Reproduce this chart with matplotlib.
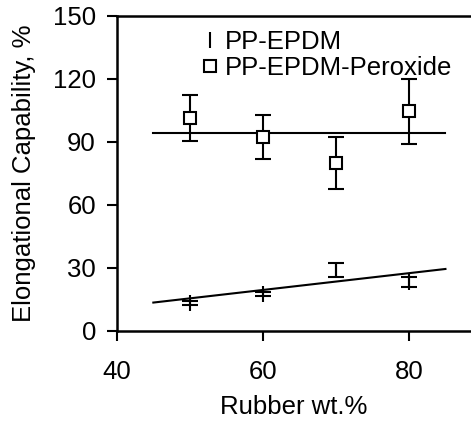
import numpy as np
import matplotlib.pyplot as plt

plt.rcParams['font.family'] = ['Liberation Sans', 'DejaVu Sans']

rubber = [50, 60, 70, 80]

# PP-EPDM
epdm = [13.3, 17.6, 29.0, 23.2]
epdm_err = [1.0, 1.0, 3.2, 2.4]
epdm_fit_x = [45, 85]
epdm_fit_y = [13.5, 29.5]

# PP-EPDM-Peroxide
perox = [101.5, 92.4, 80.0, 104.6]
perox_err = [11.0, 10.5, 12.5, 15.4]
perox_fit_x = [45, 85]
perox_fit_y = [94.4, 94.4]

fig = plt.figure(figsize=(4.71, 4.21), dpi=100)
ax = fig.add_axes([0.248, 0.214, 0.752, 0.748])

ax.errorbar(rubber, epdm, yerr=epdm_err, fmt='|', color='black',
            markersize=11, markeredgewidth=1.5, elinewidth=1.5,
            capsize=5.5, capthick=1.5, label='PP-EPDM')
ax.errorbar(rubber, perox, yerr=perox_err, fmt='s', color='black',
            markerfacecolor='white', markersize=8.5, markeredgewidth=1.5,
            elinewidth=1.5, capsize=5.5, capthick=1.5,
            label='PP-EPDM-Peroxide')
ax.plot(epdm_fit_x, epdm_fit_y, color='black', lw=1.5)
ax.plot(perox_fit_x, perox_fit_y, color='black', lw=1.5)

ax.set_xlim(40, 88.5)
ax.set_ylim(0, 150)
ax.set_xticks([40, 60, 80])
ax.set_yticks([0, 30, 60, 90, 120, 150])
ax.tick_params(labelsize=18.5, width=1.5, length=7, direction='out')
ax.tick_params(axis='x', pad=14)
ax.tick_params(axis='y', pad=8)
ax.spines['right'].set_visible(False)
for s in ['left', 'bottom', 'top']:
    ax.spines[s].set_linewidth(1.8)

ax.set_xlabel('Rubber wt.%', fontsize=18.5, labelpad=8)
ax.set_ylabel('Elongational Capability, %', fontsize=18.5, labelpad=12)

handles, labels = ax.get_legend_handles_labels()
handles = [h[0] for h in handles]
ax.legend(handles, labels, loc='upper left', bbox_to_anchor=(0.183, 1.006),
          frameon=False, fontsize=18.5, handletextpad=0.1, handlelength=1.0,
          labelspacing=0.1, borderaxespad=0.2)

fig.savefig('out.png', dpi=100)
